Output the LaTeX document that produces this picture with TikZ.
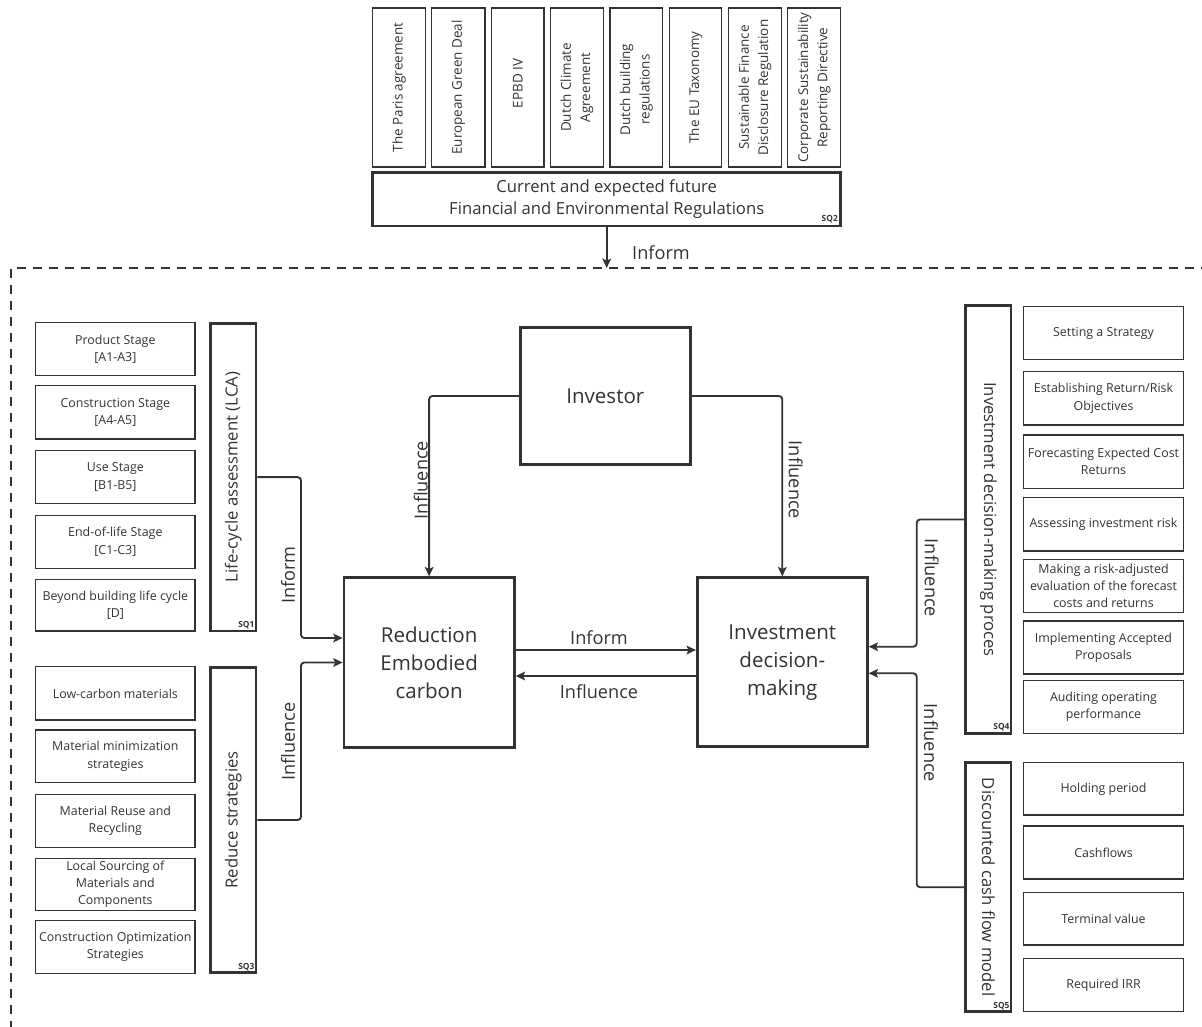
\documentclass[tikz,border=0pt]{standalone}
\usepackage{fontspec}
\setmainfont{Open Sans}
\usetikzlibrary{arrows.meta,fit}
\definecolor{ink}{HTML}{333333}
\newcommand\smallfont{\fontsize{9.3pt}{13pt}\selectfont}
\newcommand\regfont{\fontsize{10.1pt}{14.5pt}\selectfont}
\newcommand\midfont{\fontsize{12.5pt}{16.3pt}\selectfont}
\newcommand\bigfont{\fontsize{15.4pt}{21pt}\selectfont}
\newcommand\lblfont{\fontsize{13.6pt}{16pt}\selectfont}
\newcommand\sqfont{\fontsize{6.3pt}{7pt}\selectfont\bfseries}
% frame spanning the corner points (x1,y1) and (x2,y2), with its text centred in a second node
\newcommand\mkbox[7]{\node[#2, fit={(#3,#4) (#5,#6)}] (#1) {};
  \node[boxtext, #2, draw=none] (#1t) at (#1.center) {#7};}
\begin{document}
\begin{tikzpicture}[x=0.75pt,y=-0.75pt,
  boxtext/.style={inner sep=0pt, text=ink, align=center},
  thinbox/.style={draw=ink, line width=1.1pt, inner sep=0pt, font=\smallfont},
  regbox/.style={draw=ink, line width=1.1pt, inner sep=0pt},
  thickbox/.style={draw=ink, line width=2.1pt, inner sep=0pt},
  bartext/.style={text=ink, font=\midfont, inner sep=0pt},
  regtext/.style={text=ink, font=\regfont, align=center, inner sep=0pt, rotate=90},
  conn/.style={draw=ink, line width=1.4pt, rounded corners=2.5pt, -{Stealth[length=7pt,width=6.5pt,inset=1.5pt]}},
  lbl/.style={text=ink, font=\lblfont, inner sep=0pt},
  sq/.style={text=ink, font=\sqfont, inner sep=0pt, anchor=south east},
  frame/.style={draw=ink, line width=1.3pt, dash pattern=on 7pt off 5pt}
]
\useasboundingbox (0,0) rectangle (1202,1027);

% ---------- regulations ----------
\mkbox{reg1}{regbox}{372.7}{8}{425.7}{167}{}
\mkbox{reg2}{regbox}{431.7}{8}{485}{167}{}
\mkbox{reg3}{regbox}{491.7}{8}{544}{167}{}
\mkbox{reg4}{regbox}{550.7}{8}{603.3}{167}{}
\mkbox{reg5}{regbox}{610}{8}{662.7}{167}{}
\mkbox{reg6}{regbox}{669.3}{8}{721.7}{167}{}
\mkbox{reg7}{regbox}{728.3}{8}{781.7}{167}{}
\mkbox{reg8}{regbox}{787.7}{8}{840.7}{167}{}
\node[regtext] (reg1l) at (reg1.center) {The Paris agreement};
\node[regtext] (reg2l) at (reg2.center) {European Green Deal};
\node[regtext] (reg3l) at ([yshift=3pt]reg3.center) {EPBD IV};
\node[regtext] (reg4l) at (reg4.center) {Dutch Climate\\Agreement};
\node[regtext] (reg5l) at ([yshift=-1.5pt]reg5.center) {Dutch building\\regulations};
\node[regtext] (reg6l) at (reg6.center) {The EU Taxonomy};
\node[regtext] (reg7l) at (reg7.center) {Sustainable Finance\\Disclosure Regulation};
\node[regtext] (reg8l) at (reg8.center) {Corporate Sustainability\\Reporting Directive};

\mkbox{regs}{thickbox, font=\midfont}{372.7}{172.7}{840.7}{226}{Current and expected future\\Financial and Environmental Regulations}
\node[sq] (sq2) at ([xshift=-3pt,yshift=3pt]regs.south east) {SQ2};

% ---------- dashed frame ----------
\coordinate (fcorner) at (10.7,268);
\draw[frame] (10.7,1030) -- (fcorner) -- (1205,268);
\coordinate (ftop) at (606.7,268);
\draw[conn] (regs.south) -- (ftop);
\node[lbl] (informtop) at (661,253) {Inform};

% ---------- life-cycle stages ----------
\mkbox{ps}{thinbox}{35.7}{322.7}{195}{375.7}{Product Stage\\{[A1-A3]}}
\mkbox{cs}{thinbox}{35.7}{385.7}{195}{439}{Construction Stage\\{[A4-A5]}}
\mkbox{us}{thinbox}{35.7}{450.7}{195}{503.3}{Use Stage\\{[B1-B5]}}
\mkbox{es}{thinbox}{35.7}{515.3}{195}{568.3}{End-of-life Stage\\{[C1-C3]}}
\mkbox{bs}{thinbox}{35.7}{579.3}{195}{631}{Beyond building life cycle\\{[D]}}
\mkbox{lca}{thickbox}{210.7}{323.3}{256}{631}{}
\node[bartext, rotate=90] (lcal) at (lca.center) {Life-cycle assessment (LCA)};
\node[sq] (sq1) at ([xshift=-2pt,yshift=2.5pt]lca.south east) {SQ1};

% ---------- reduce strategies ----------
\mkbox{rs1}{thinbox}{35.7}{666.7}{195}{720}{Low-carbon materials}
\mkbox{rs2}{thinbox}{35.7}{730}{195}{782.7}{Material minimization\\strategies}
\mkbox{rs3}{thinbox}{35.7}{794.3}{195}{847.3}{Material Reuse and\\Recycling}
\mkbox{rs4}{thinbox, font=\fontsize{9.3pt}{12.8pt}\selectfont}{35.7}{858.3}{195}{910.7}{Local Sourcing of\\Materials and\\Components}
\mkbox{rs5}{thinbox}{35.7}{920.7}{195}{973.3}{Construction Optimization\\Strategies}
\mkbox{rbar}{thickbox}{210.7}{667.3}{256}{972.7}{}
\node[bartext, rotate=90] (rbarl) at (rbar.center) {Reduce strategies};
\node[sq] (sq3) at ([xshift=-2pt,yshift=2.5pt]rbar.south east) {SQ3};

% ---------- central boxes ----------
\mkbox{red}{thickbox, font=\bigfont}{344}{577.7}{514.3}{747.3}{Reduction\\Embodied\\carbon}
\mkbox{investor}{thickbox, font=\bigfont}{520.3}{327.3}{690.3}{464.7}{Investor}
\mkbox{inv}{thickbox, font=\bigfont}{697.3}{577.7}{867.3}{746.7}{Investment\\decision-\\making}

% ---------- investment decision-making process ----------
\mkbox{idm}{thickbox}{965.7}{305.7}{1011}{733.3}{}
\node[bartext, rotate=-90] (idml) at (idm.center) {Investment decision-making proces};
\node[sq] (sq4) at ([xshift=-2pt,yshift=2.5pt]idm.south east) {SQ4};
\mkbox{r1}{thinbox}{1023.7}{306.7}{1183.3}{359.3}{Setting a Strategy}
\mkbox{r2}{thinbox}{1023.7}{371.7}{1183.3}{425}{Establishing Return/Risk\\Objectives}
\mkbox{r3}{thinbox}{1023.7}{435}{1183.3}{488.3}{Forecasting Expected Cost\\Returns}
\mkbox{r4}{thinbox}{1023.7}{497.7}{1183.3}{551}{Assessing investment risk}
\mkbox{r5}{thinbox, font=\fontsize{9.3pt}{12.8pt}\selectfont}{1023.7}{559.3}{1183.3}{612.3}{Making a risk-adjusted\\evaluation of the forecast\\costs and returns}
\mkbox{r6}{thinbox}{1023.7}{621}{1183.3}{674}{Implementing Accepted\\Proposals}
\mkbox{r7}{thinbox}{1023.7}{680.7}{1183.3}{733.3}{Auditing operating\\performance}

% ---------- discounted cash flow model ----------
\mkbox{dcf}{thickbox}{965.7}{762.7}{1011}{1011.7}{}
\node[bartext, rotate=-90] (dcfl) at (dcf.center) {Discounted cash flow model};
\node[sq] (sq5) at ([xshift=-2pt,yshift=2.5pt]dcf.south east) {SQ5};
\mkbox{d1}{thinbox}{1023.7}{762.7}{1183.3}{815}{Holding period}
\mkbox{d2}{thinbox}{1023.7}{826}{1183.3}{879}{Cashflows}
\mkbox{d3}{thinbox}{1023.7}{892.3}{1183.3}{945}{Terminal value}
\mkbox{d4}{thinbox}{1023.7}{958.3}{1183.3}{1011.7}{Required IRR}

% ---------- connectors ----------
\draw[conn] (lca.east) -| (301,638) -- (red.west |- 0,638);
\draw[conn] (rbar.east) -| (301,662.5) -- (red.west);
\draw[conn] (investor.west) -| (red.north);
\draw[conn] (investor.east) -| (inv.north);
\draw[conn] (red.east |- 0,650) -- (inv.west |- 0,650);
\draw[conn] (inv.west |- 0,676) -- (red.east |- 0,676);
\draw[conn] (idm.west) -| (916.7,646.7) -- (inv.east |- 0,646.7);
\draw[conn] (dcf.west) -| (916.7,673.3) -- (inv.east |- 0,673.3);

% ---------- connector labels ----------
\node[lbl, rotate=90] (l1) at (288,575) {Inform};
\node[lbl, rotate=90] (l2) at (288,741.7) {Influence};
\node[lbl, rotate=90] (l3) at (420.7,480) {Influence};
\node[lbl, rotate=-90] (l4) at (795.8,480) {Influence};
\node[lbl] (l5) at (599,638) {Inform};
\node[lbl] (l6) at (599,691.7) {Influence};
\node[lbl, rotate=-90] (l7) at (931.7,578) {Influence};
\node[lbl, rotate=-90] (l8) at (931,743) {Influence};
\end{tikzpicture}
\end{document}
